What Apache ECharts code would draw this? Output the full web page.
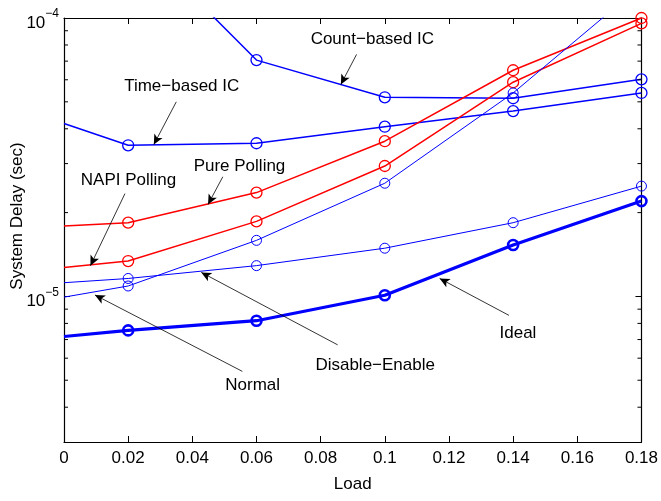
<!DOCTYPE html>
<html><head><meta charset="utf-8">
<script src="https://cdn.jsdelivr.net/npm/echarts@6/dist/echarts.min.js"></script>
<style>html,body{margin:0;padding:0;background:#fff}#c{width:661px;height:501px}</style>
</head><body><div id="c"></div>
<script>
// ---- data ----
const loads = [0, 0.02, 0.06, 0.1, 0.14, 0.18];
const countBasedIC  = [3.5e-4, 2.05e-4, 7.06e-5, 5.19e-5, 5.15e-5, 6.02e-5];
const timeBasedIC   = [4.18e-5, 3.49e-5, 3.55e-5, 4.07e-5, 4.63e-5, 5.38e-5];
const purePolling   = [1.79e-5, 1.84e-5, 2.36e-5, 3.61e-5, 6.49e-5, 1.0e-4];
const napiPolling   = [1.27e-5, 1.34e-5, 1.86e-5, 2.94e-5, 5.88e-5, 9.57e-5];
const normalSched   = [9.94e-6, 1.09e-5, 1.59e-5, 2.55e-5, 5.38e-5, 1.31e-4];
const disableEnable = [1.12e-5, 1.16e-5, 1.29e-5, 1.49e-5, 1.84e-5, 2.49e-5];
const ideal         = [7.18e-6, 7.55e-6, 8.18e-6, 1.01e-5, 1.53e-5, 2.20e-5];
const xTickStep = 0.02;
const xMin = 0, xMax = 0.18;
const yMin = 3e-6, yMax = 1e-4;
const yMinorTicks = [4e-6,5e-6,6e-6,7e-6,8e-6,9e-6,2e-5,3e-5,4e-5,5e-5,6e-5,7e-5,8e-5,9e-5];
// annotations (data coordinates): text, text anchor, arrow start, arrow tip
const annText  = ['Count\u2212based IC','Time\u2212based IC','Pure Polling','NAPI Polling','Disable\u2212Enable','Normal','Ideal'];
const annPos   = [[0.0961,8.40e-5],[0.0367,5.69e-5],[0.0547,2.94e-5],[0.0201,2.61e-5],[0.0970,5.65e-6],[0.0588,4.79e-6],[0.1415,7.36e-6]];
const annFrom  = [[0.0912,7.40e-5],[0.0350,5.00e-5],[0.0495,2.69e-5],[0.0190,2.34e-5],[0.0853,6.70e-6],[0.0556,5.38e-6],[0.1387,8.55e-6]];
const annTo    = [[0.0863,5.77e-5],[0.0280,3.51e-5],[0.0449,2.14e-5],[0.00824,1.29e-5],[0.0428,1.22e-5],[0.00964,1.012e-5],[0.1171,1.16e-5]];

const FONT = 'Liberation Sans, Arial, Helvetica, sans-serif';
const BLUE = '#0000ff', RED = '#ff0000';

function pts(vals){
  return vals.map((v,i)=> i===0 ? {value:[loads[i],v], symbol:'none'} : {value:[loads[i],v]});
}
function lineSeries(name, vals, color, lw, size, bw){
  return {
    name, type:'line', data: pts(vals), clip:true,
    symbol:'circle', symbolSize:size, showSymbol:true,
    lineStyle:{color, width:lw},
    itemStyle:{color:'rgba(0,0,0,0)', borderColor:color, borderWidth:bw},
    emphasis:{disabled:true}, animation:false, z:3
  };
}
function isPow10(v){ const l=Math.log10(v); return Math.abs(l-Math.round(l))<1e-6; }

const chart = echarts.init(document.getElementById('c'));
const axisLineStyle = {color:'#000', width:1.2};
chart.setOption({
  backgroundColor:'#fff',
  animation:false,
  grid:{left:64, right:18, top:18, bottom:59, containLabel:false},
  xAxis:[{
    type:'value', min:xMin, max:xMax, interval:xTickStep, position:'bottom',
    axisLine:{show:true, onZero:false, lineStyle:axisLineStyle},
    axisTick:{show:true, inside:true, length:6, lineStyle:{color:'#000'}},
    splitLine:{show:false},
    axisLabel:{fontFamily:FONT, fontSize:17, color:'#000', margin:8,
      formatter:v=>String(+(+v).toFixed(2))},
    name:'Load', nameLocation:'middle', nameGap:34,
    nameTextStyle:{fontFamily:FONT, fontSize:17, color:'#000'}
  },{
    type:'value', min:xMin, max:xMax, interval:xTickStep, position:'top',
    axisLine:{show:true, onZero:false, lineStyle:axisLineStyle},
    axisTick:{show:true, inside:true, length:6, lineStyle:{color:'#000'}},
    splitLine:{show:false}, axisLabel:{show:false}
  }],
  yAxis:[{
    type:'log', logBase:10, min:yMin, max:yMax, splitNumber:10, position:'left',
    axisLine:{show:true, onZero:false, lineStyle:axisLineStyle},
    axisTick:{show:true, inside:true, length:6, lineStyle:{color:'#000'}},
    splitLine:{show:false}, minorTick:{show:false},
    axisLabel:{color:'#000', margin:5, showMinLabel:false,
      formatter:v=>{ if(!isPow10(v)) return ''; const e=Math.round(Math.log10(v)); return '{b|10}{s|\u2212'+Math.abs(e)+'}'; },
      rich:{
        b:{fontFamily:FONT, fontSize:17, color:'#000', padding:[10,0,0,0]},
        s:{fontFamily:FONT, fontSize:12, color:'#000', padding:[0,0,8,0]}
      }
    }
  },{
    type:'log', logBase:10, min:yMin, max:yMax, splitNumber:10, position:'right',
    axisLine:{show:true, onZero:false, lineStyle:axisLineStyle},
    axisTick:{show:true, inside:true, length:6, lineStyle:{color:'#000'}},
    splitLine:{show:false}, axisLabel:{show:false}
  }],
  graphic:[{
    type:'text', x:17, y:216, rotation:Math.PI/2,
    style:{text:'System Delay (sec)', fontFamily:FONT, fontSize:17, fill:'#000', align:'center', verticalAlign:'middle'}
  }],
  series:[
    lineSeries('Count-based IC', countBasedIC, BLUE, 1.5, 11, 1.3),
    lineSeries('Time-based IC', timeBasedIC, BLUE, 1.5, 11, 1.3),
    lineSeries('Pure Polling', purePolling, RED, 1.5, 11, 1.3),
    lineSeries('NAPI Polling', napiPolling, RED, 1.5, 11, 1.3),
    lineSeries('Normal', normalSched, BLUE, 1, 10, 1),
    lineSeries('Disable-Enable', disableEnable, BLUE, 1, 10, 1),
    lineSeries('Ideal', ideal, BLUE, 3.2, 10, 2.6),
    {
      type:'custom', silent:true, clip:false, z:5,
      data: yMinorTicks.map(v=>[xMin, v]),
      renderItem:(params, api)=>{
        const pL = api.coord([xMin, api.value(1)]);
        const pR = api.coord([xMax, api.value(1)]);
        return {type:'group', children:[
          {type:'line', shape:{x1:pL[0], y1:pL[1], x2:pL[0]+4, y2:pL[1]}, style:{stroke:'#000', lineWidth:1}},
          {type:'line', shape:{x1:pR[0]-4, y1:pR[1], x2:pR[0], y2:pR[1]}, style:{stroke:'#000', lineWidth:1}}
        ]};
      }
    },
    {
      type:'scatter', silent:true, z:6,
      symbolSize:1, itemStyle:{color:'rgba(0,0,0,0)'},
      data: annText.map((t,i)=>({value:annPos[i], name:t})),
      label:{show:true, position:'inside', formatter:p=>p.name, fontFamily:FONT, fontSize:17,
        color:'#000', textBorderWidth:0, textBorderColor:'transparent', opacity:1},
      markLine:{
        silent:true, symbol:['none','arrow'], symbolSize:[7,10], precision:8,
        lineStyle:{color:'#000', width:0.8, type:'solid'},
        label:{show:false},
        data: annFrom.map((f,i)=>[{coord:f},{coord:annTo[i]}])
      }
    }
  ]
});
</script></body></html>
